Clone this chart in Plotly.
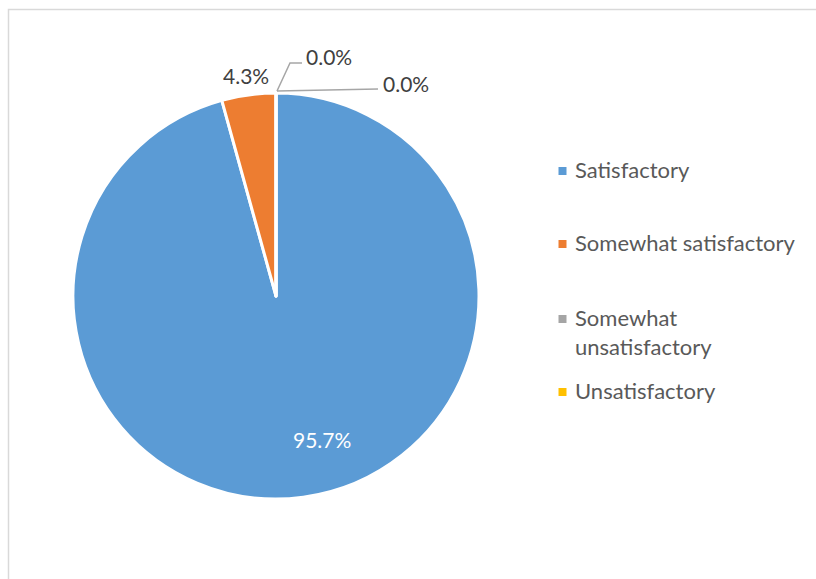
import plotly.graph_objects as go

# Survey results
categories = ["Satisfactory", "Somewhat satisfactory", "Somewhat unsatisfactory", "Unsatisfactory"]
legend_labels = ["Satisfactory", "Somewhat satisfactory", "Somewhat<br>unsatisfactory", "Unsatisfactory"]
shares = [95.7, 4.3, 0.0, 0.0]
colors = ["#5b9bd5", "#ed7d31", "#a5a5a5", "#ffc000"]

W, H = 816, 579
FONT = "Lato"


def px(x):
    return x / W


def py(y):
    return 1 - y / H


# pie geometry (pixels)
cx, cy, r = 276, 296, 203

fig = go.Figure()
fig.add_trace(go.Pie(
    labels=categories,
    values=shares,
    sort=False,
    direction="clockwise",
    rotation=0,
    marker=dict(colors=colors, line=dict(color="white", width=3)),
    textinfo="none",
    showlegend=False,
    domain=dict(x=[px(cx - r), px(cx + r)], y=[py(cy + r), py(cy - r)]),
))

annotations = []
shapes = []

# chart area border
shapes.append(dict(type="rect", xref="paper", yref="paper",
                   x0=px(8.5), x1=px(W + 10), y0=py(H + 10), y1=py(9.5),
                   line=dict(color="#d9d9d9", width=1.5), fillcolor="rgba(0,0,0,0)"))

# data labels
label_pos = [(322, 439), (246, 75), (329, 56), (406, 83)]
label_color = ["white", "#404040", "#404040", "#404040"]
for v, (lx, ly), c in zip(shares, label_pos, label_color):
    annotations.append(dict(x=px(lx), y=py(ly), xref="paper", yref="paper",
                            text=f"{v:.1f}%", showarrow=False,
                            font=dict(family=FONT, size=21, color=c),
                            xanchor="center", yanchor="middle"))

# leader lines for the zero-share slices (start at the top of the pie)
tx, ty = cx + 1, cy - r - 2
shapes.append(dict(type="path", xref="paper", yref="paper",
                   path=f"M {px(tx)},{py(ty)} L {px(290)},{py(63)} L {px(302)},{py(63)}",
                   line=dict(color="#a6a6a6", width=1.5)))
shapes.append(dict(type="line", xref="paper", yref="paper",
                   x0=px(tx), y0=py(ty), x1=px(378), y1=py(89),
                   line=dict(color="#a6a6a6", width=1.5)))

# legend
legend_y = [171, 244, 319, 392]
for lab, c, ly in zip(legend_labels, colors, legend_y):
    shapes.append(dict(type="rect", xref="paper", yref="paper",
                       x0=px(558.5), x1=px(566.5), y0=py(ly + 4), y1=py(ly - 4),
                       fillcolor=c, line=dict(width=0)))
    annotations.append(dict(x=px(573), y=py(ly - 17), xref="paper", yref="paper",
                            text=lab, showarrow=False, align="left",
                            font=dict(family=FONT, size=22, color="#595959"),
                            xanchor="left", yanchor="top"))

fig.update_layout(
    width=W, height=H,
    margin=dict(l=0, r=0, t=0, b=0),
    paper_bgcolor="white",
    plot_bgcolor="white",
    annotations=annotations,
    shapes=shapes,
    font=dict(family=FONT),
)

fig.write_html("out.html")
